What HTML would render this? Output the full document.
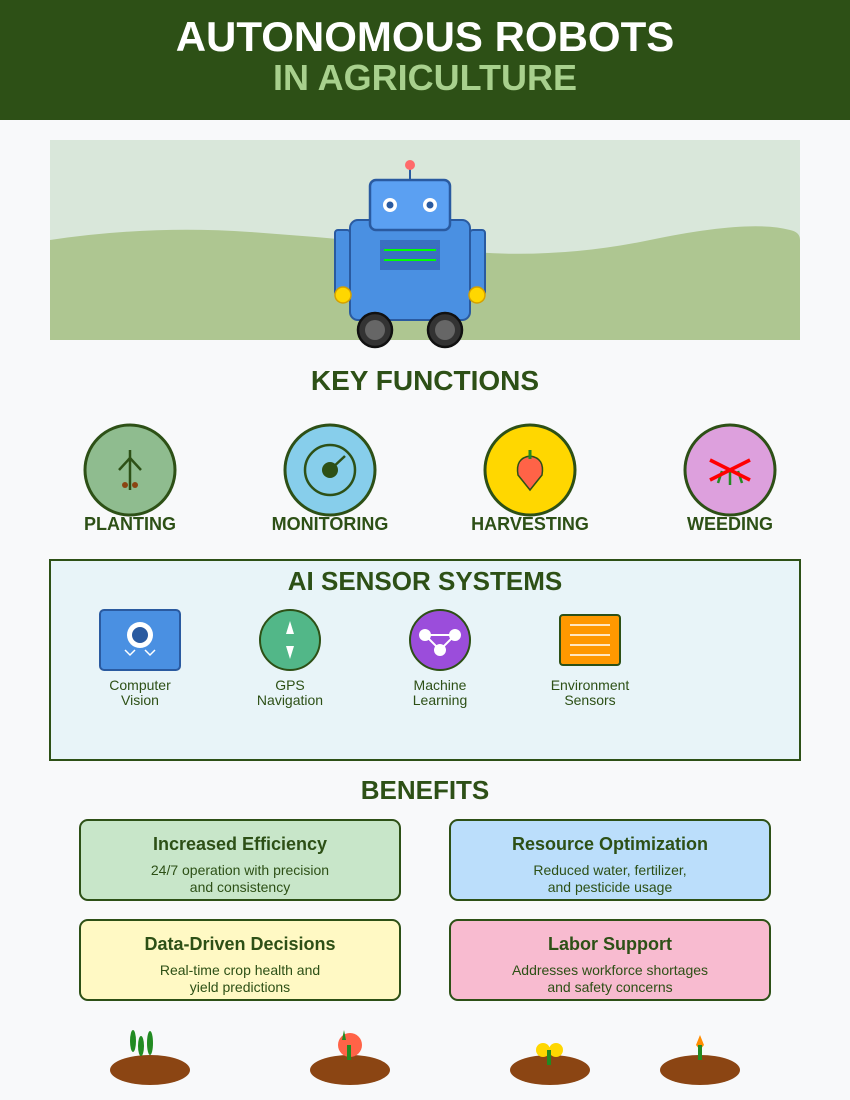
<!DOCTYPE html>
<html><head><meta charset="utf-8"><style>
body{margin:0;background:#f8f9fa}
svg{display:block}
text{font-family:"Liberation Sans",Arial,sans-serif}
</style></head><body>
<svg width="850" height="1100" viewBox="0 0 850 1100" xmlns="http://www.w3.org/2000/svg">
<rect width="850" height="1100" fill="#f8f9fa"/>
<rect width="850" height="120" fill="#2d5016"/>
<text x="425" y="51" text-anchor="middle" font-size="42" font-weight="bold" fill="#fff">AUTONOMOUS ROBOTS</text>
<text x="425" y="90" text-anchor="middle" font-size="36" font-weight="bold" fill="#a8d08d">IN AGRICULTURE</text>

<rect x="50" y="140" width="750" height="200" fill="#d9e7da"/>
<path d="M50 240 Q150 225 250 232 T450 250 T650 240 T790 230 Q800 232 800 240 L800 340 L50 340 Z" fill="#aec691"/>

<line x1="410" y1="168" x2="410" y2="180" stroke="#2a5aa0" stroke-width="2"/>
<circle cx="410" cy="165" r="5" fill="#ff6b6b"/>
<rect x="335" y="230" width="15" height="65" rx="3" fill="#4a90e2" stroke="#2a5aa0" stroke-width="2"/>
<rect x="470" y="230" width="15" height="65" rx="3" fill="#4a90e2" stroke="#2a5aa0" stroke-width="2"/>
<rect x="350" y="220" width="120" height="100" rx="8" fill="#4a90e2" stroke="#2a5aa0" stroke-width="2"/>
<rect x="370" y="180" width="80" height="50" rx="6" fill="#5ba0f2" stroke="#2a5aa0" stroke-width="2.5"/>
<circle cx="390" cy="205" r="7" fill="#fff"/><circle cx="390" cy="205" r="3.5" fill="#2a5aa0"/>
<circle cx="430" cy="205" r="7" fill="#fff"/><circle cx="430" cy="205" r="3.5" fill="#2a5aa0"/>
<rect x="380" y="240" width="60" height="30" fill="#3a70c0"/>
<line x1="384" y1="250" x2="436" y2="250" stroke="#00ff00" stroke-width="2"/>
<line x1="384" y1="260" x2="436" y2="260" stroke="#00ff00" stroke-width="2"/>
<circle cx="343" cy="295" r="8" fill="#ffd700" stroke="#d4a000" stroke-width="1.5"/>
<circle cx="477" cy="295" r="8" fill="#ffd700" stroke="#d4a000" stroke-width="1.5"/>
<circle cx="375" cy="330" r="17" fill="#333" stroke="#111" stroke-width="2.5"/><circle cx="375" cy="330" r="10" fill="#666"/>
<circle cx="445" cy="330" r="17" fill="#333" stroke="#111" stroke-width="2.5"/><circle cx="445" cy="330" r="10" fill="#666"/>

<text x="425" y="390" text-anchor="middle" font-size="28" font-weight="bold" fill="#2d5016">KEY FUNCTIONS</text>
<g stroke="#2d5016" stroke-width="3">
<ellipse cx="130" cy="470" rx="45" ry="45" fill="#8fbc8f"/>
<ellipse cx="330" cy="470" rx="45" ry="45" fill="#87ceeb"/>
<ellipse cx="530" cy="470" rx="45" ry="45" fill="#ffd700"/>
<ellipse cx="730" cy="470" rx="45" ry="45" fill="#dda0dd"/>
</g>
<g stroke="#2d5016" stroke-width="2.5" fill="none">
<line x1="130" y1="450" x2="130" y2="490"/><path d="M119 470 L130 458 L141 470"/>
<circle cx="330" cy="470" r="25"/>
<line x1="330" y1="470" x2="345" y2="456"/>
</g>
<circle cx="125" cy="485" r="3" fill="#8b4513"/><circle cx="135" cy="485" r="3" fill="#8b4513"/>
<circle cx="330" cy="470" r="8" fill="#2d5016"/>
<path d="M530 490 L518 475 Q515 458 530 456 Q545 458 542 475 Z" fill="#ff6347" stroke="#2d5016" stroke-width="1.5"/>
<line x1="530" y1="450" x2="530" y2="459" stroke="#228b22" stroke-width="3"/>
<g stroke="#228b22" stroke-width="2.5" fill="none"><line x1="730" y1="470" x2="730" y2="485"/><path d="M722 471 L718 483"/><path d="M738 471 L742 483"/></g>
<g stroke="#ff0000" stroke-width="3.5"><line x1="710" y1="460" x2="750" y2="480"/><line x1="710" y1="480" x2="750" y2="460"/></g>
<g font-size="18" font-weight="bold" fill="#2d5016" text-anchor="middle">
<text x="130" y="530">PLANTING</text><text x="330" y="530">MONITORING</text><text x="530" y="530">HARVESTING</text><text x="730" y="530">WEEDING</text></g>

<rect x="50" y="560" width="750" height="200" fill="#e8f4f8" stroke="#2d5016" stroke-width="2"/>
<text x="425" y="590" text-anchor="middle" font-size="26" font-weight="bold" fill="#2d5016">AI SENSOR SYSTEMS</text>
<rect x="100" y="610" width="80" height="60" rx="4" fill="#4a90e2" stroke="#2a5aa0" stroke-width="2"/>
<circle cx="140" cy="635" r="13" fill="#fff"/><circle cx="140" cy="635" r="8" fill="#2a5aa0"/>
<path d="M125 650 L130 655 L135 650 M145 650 L150 655 L155 650" stroke="#fff" stroke-width="1.5" fill="none"/>
<circle cx="290" cy="640" r="30" fill="#52b788" stroke="#2d5016" stroke-width="2"/>
<path d="M290 621 L294 634 L286 634 Z M290 659 L294 646 L286 646 Z" fill="#fff"/>
<circle cx="440" cy="640" r="30" fill="#9b4ddb" stroke="#2d5016" stroke-width="2"/>
<path d="M425 635 L455 635 L440 650 Z" stroke="#fff" stroke-width="2" fill="none"/>
<circle cx="425" cy="635" r="6" fill="#fff"/><circle cx="455" cy="635" r="6" fill="#fff"/><circle cx="440" cy="650" r="6" fill="#fff"/>
<rect x="560" y="615" width="60" height="50" rx="3" fill="#ff9800" stroke="#2d5016" stroke-width="2"/>
<g stroke="#fff" stroke-width="1.5"><line x1="570" y1="625" x2="610" y2="625"/><line x1="570" y1="635" x2="610" y2="635"/><line x1="570" y1="645" x2="610" y2="645"/><line x1="570" y1="655" x2="610" y2="655"/></g>
<g font-size="14" fill="#2d5016" text-anchor="middle">
<text x="140" y="690">Computer</text><text x="140" y="705">Vision</text>
<text x="290" y="690">GPS</text><text x="290" y="705">Navigation</text>
<text x="440" y="690">Machine</text><text x="440" y="705">Learning</text>
<text x="590" y="690">Environment</text><text x="590" y="705">Sensors</text></g>

<text x="425" y="799" text-anchor="middle" font-size="26" font-weight="bold" fill="#2d5016">BENEFITS</text>
<g stroke="#2d5016" stroke-width="2">
<rect x="80" y="820" width="320" height="80" rx="8" fill="#c8e6c9"/>
<rect x="450" y="820" width="320" height="80" rx="8" fill="#bbdefb"/>
<rect x="80" y="920" width="320" height="80" rx="8" fill="#fff9c4"/>
<rect x="450" y="920" width="320" height="80" rx="8" fill="#f8bbd0"/></g>
<g fill="#2d5016" text-anchor="middle">
<g font-size="18" font-weight="bold">
<text x="240" y="850">Increased Efficiency</text><text x="610" y="850">Resource Optimization</text>
<text x="240" y="950">Data-Driven Decisions</text><text x="610" y="950">Labor Support</text></g>
<g font-size="14">
<text x="240" y="875">24/7 operation with precision</text><text x="240" y="892">and consistency</text>
<text x="610" y="875">Reduced water, fertilizer,</text><text x="610" y="892">and pesticide usage</text>
<text x="240" y="975">Real-time crop health and</text><text x="240" y="992">yield predictions</text>
<text x="610" y="975">Addresses workforce shortages</text><text x="610" y="992">and safety concerns</text></g></g>

<g fill="#8b4513">
<ellipse cx="150" cy="1070" rx="40" ry="15"/><ellipse cx="350" cy="1070" rx="40" ry="15"/>
<ellipse cx="550" cy="1070" rx="40" ry="15"/><ellipse cx="700" cy="1070" rx="40" ry="15"/></g>
<g fill="#228b22">
<ellipse cx="133" cy="1041" rx="3" ry="11"/><ellipse cx="150" cy="1043" rx="3" ry="12"/><ellipse cx="141" cy="1046" rx="3" ry="10"/></g>
<ellipse cx="350" cy="1045" rx="12" ry="12" fill="#ff6347"/>
<path d="M344 1030 L346 1040 L342 1040 Z" fill="#228b22"/>
<rect x="347" y="1045" width="4" height="15" fill="#228b22"/>
<circle cx="543" cy="1050" r="7" fill="#ffd700"/><circle cx="556" cy="1050" r="7" fill="#ffd700"/>
<rect x="547" y="1050" width="4" height="15" fill="#228b22"/>
<path d="M700 1035 L704 1045 L700 1050 L696 1045 Z" fill="#ff8c00"/>
<rect x="698" y="1045" width="4" height="15" fill="#228b22"/>
</svg>
</body></html>
